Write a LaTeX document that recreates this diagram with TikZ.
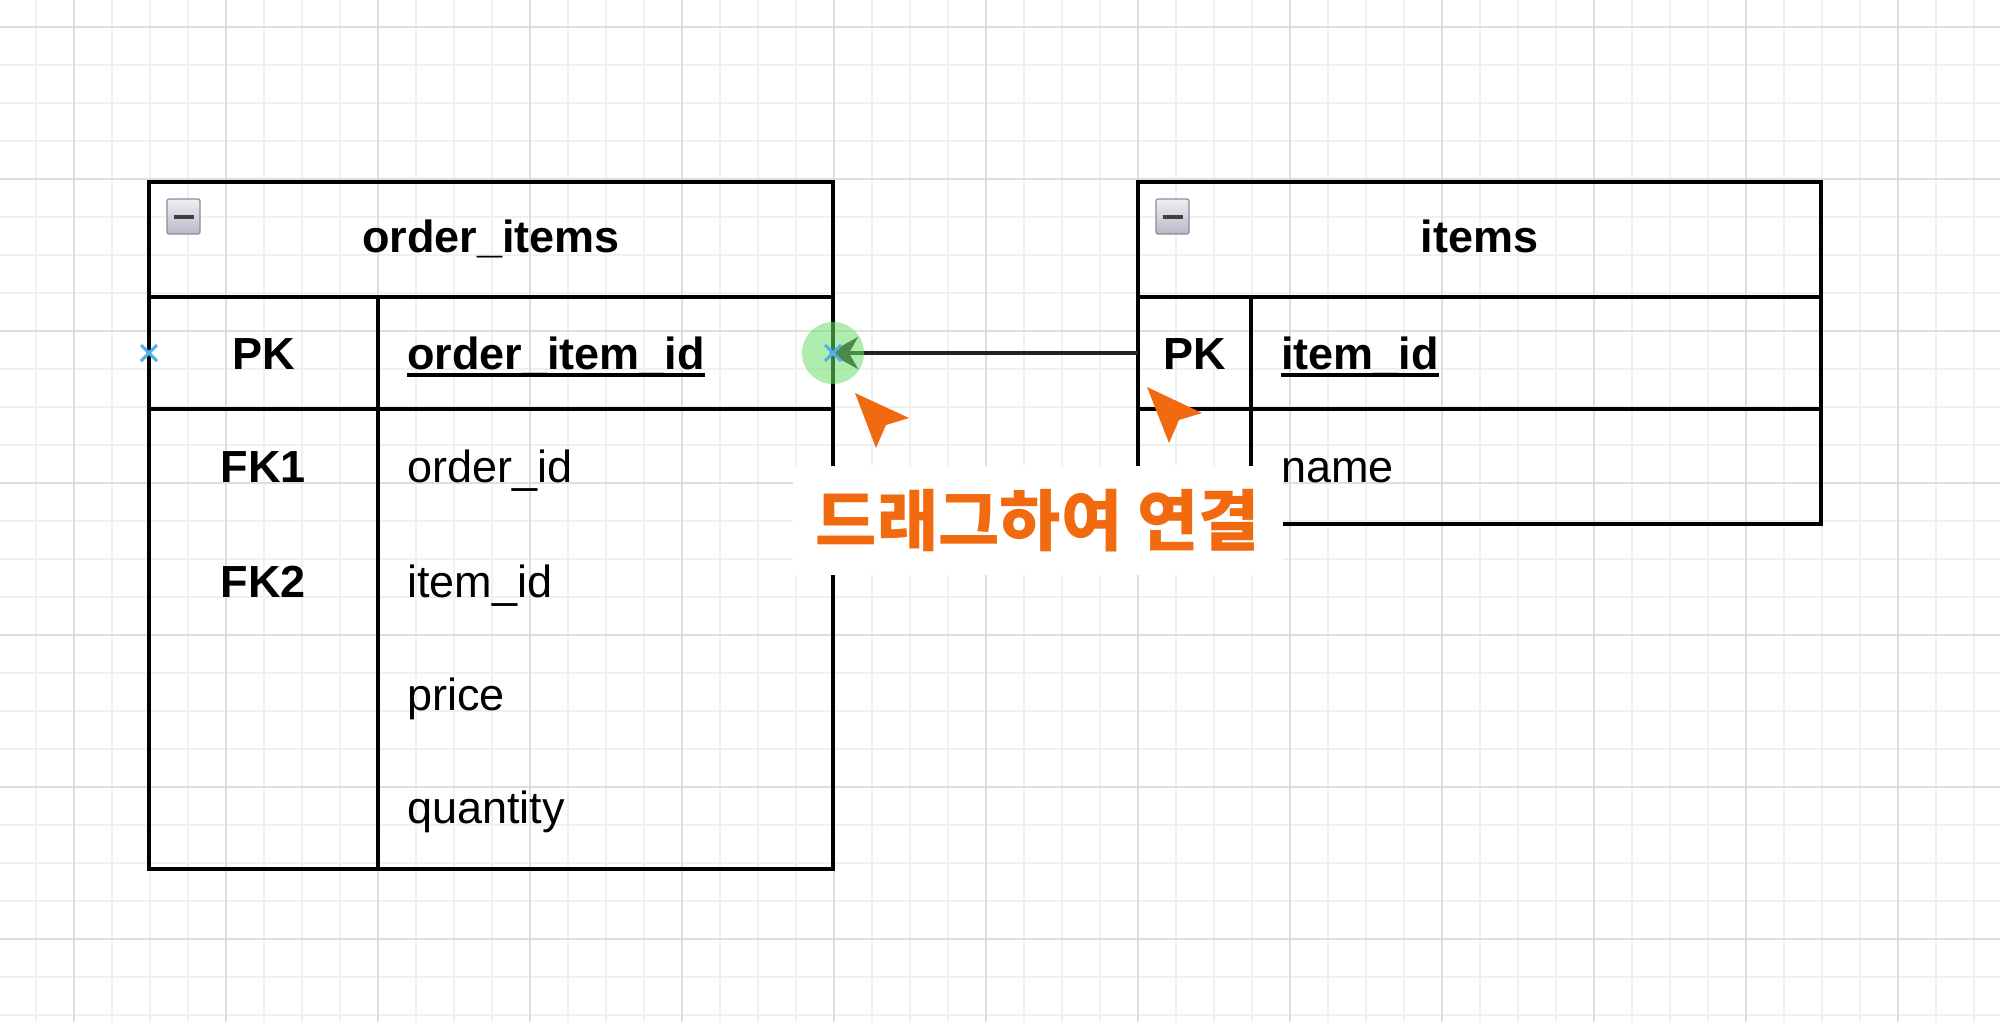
\documentclass[tikz,border=0pt]{standalone}
\usepackage{fontspec}
\setmainfont{Liberation Sans}
\newfontfamily\krfont{Noto Sans CJK KR}
\usetikzlibrary{arrows.meta}
\definecolor{gridminor}{HTML}{F0F0F0}
\definecolor{gridmajor}{HTML}{DEDEDE}
\definecolor{accent}{HTML}{F26A10}
\definecolor{hover}{HTML}{6EE06E}
\definecolor{markblue}{HTML}{4FB0EE}
\definecolor{icontop}{HTML}{EEEEF3}
\definecolor{iconbot}{HTML}{B8B9C5}
\definecolor{iconedge}{HTML}{8C8D9A}
\definecolor{linedark}{HTML}{222222}
\begin{document}
\begin{tikzpicture}[x=0.5pt,y=-0.5pt,
  box/.style={draw=black, line width=1.8pt, inner sep=0pt, outer sep=0pt, anchor=north west},
  tline/.style={draw=black, line width=1.8pt},
  hdrtxt/.style={anchor=base, inner sep=0pt, font=\bfseries\fontsize{22.5}{27}\selectfont},
  keytxt/.style={anchor=base, inner sep=0pt, font=\bfseries\fontsize{22.5}{27}\selectfont},
  pkfield/.style={anchor=base west, inner sep=0pt, font=\bfseries\fontsize{22.5}{27}\selectfont},
  field/.style={anchor=base west, inner sep=0pt, font=\fontsize{22.5}{27}\selectfont},
  uline/.style={draw=black, line width=1.7pt},
  icon/.style={draw=iconedge, line width=0.6pt, top color=icontop, bottom color=iconbot, rounded corners=1pt, minimum width=16.5pt, minimum height=17.5pt, inner sep=0pt},
  iconbar/.style={draw=black!75, line width=2pt},
  conn/.style={draw=linedark, line width=1.8pt, -{Stealth[length=14.5pt,width=16pt,inset=4.5pt]}, shorten >=-2pt},
  xmark/.style={draw=markblue, line width=1.5pt},
  cursor/.style={fill=accent}
]
\useasboundingbox (0,0) rectangle (2000,1022);
\fill[white] (0,0) rectangle (2000,1022);
% grid
\foreach \i in {0,...,52} {
  \pgfmathsetmacro\gx{-2+38*\i}
  \draw[gridminor, line width=0.9pt] (\gx,0) -- (\gx,1022);
}
\foreach \j in {0,...,26} {
  \pgfmathsetmacro\gy{27+38*\j}
  \draw[gridminor, line width=0.9pt] (0,\gy) -- (2000,\gy);
}
\foreach \i in {0,...,13} {
  \pgfmathsetmacro\gx{74+152*\i}
  \draw[gridmajor, line width=0.9pt] (\gx,0) -- (\gx,1022);
}
\foreach \j in {0,...,6} {
  \pgfmathsetmacro\gy{27+152*\j}
  \draw[gridmajor, line width=0.9pt] (0,\gy) -- (2000,\gy);
}

% table order_items
\node[box, minimum width=342pt, minimum height=343.5pt] (oi) at (149,182) {};
\node[box, minimum width=342pt, minimum height=57.5pt] (oihead) at (149,182) {};
\node[box, minimum width=342pt, minimum height=56pt] (oipk) at (149,297) {};
\draw[tline] (378,297) -- (378,869);
\node[icon] (oiicon) at (183.5,216.5) {};
\draw[iconbar] ([xshift=-5pt]oiicon.center) -- ([xshift=5pt]oiicon.center);
\node[hdrtxt] (oiname) at (491,252) {order\_items};
\node[keytxt] (oik1) at (263.5,369) {PK};
\node[keytxt] (oik2) at (263.5,482) {FK1};
\node[keytxt] (oik3) at (263.5,597) {FK2};
\node[pkfield] (oif1) at (407,369) {order\_item\_id};
\draw[uline] ([yshift=-3pt]oif1.base west) -- ([yshift=-3pt]oif1.base east);
\node[field] (oif2) at (407,482) {order\_id};
\node[field] (oif3) at (407,597) {item\_id};
\node[field] (oif4) at (407,710) {price};
\node[field] (oif5) at (407,823) {quantity};

% table items
\node[box, minimum width=341.5pt, minimum height=171pt] (it) at (1138,182) {};
\node[box, minimum width=341.5pt, minimum height=57.5pt] (ithead) at (1138,182) {};
\node[box, minimum width=341.5pt, minimum height=56pt] (itpk) at (1138,297) {};
\draw[tline] (1251,297) -- (1251,524);
\node[icon] (iticon) at (1172.5,216.5) {};
\draw[iconbar] ([xshift=-5pt]iticon.center) -- ([xshift=5pt]iticon.center);
\node[hdrtxt] (itname) at (1479.5,252) {items};
\node[keytxt] (itk1) at (1194.5,369) {PK};
\node[pkfield] (itf1) at (1281,369) {item\_id};
\draw[uline] ([yshift=-3pt]itf1.base west) -- ([yshift=-3pt]itf1.base east);
\node[field] (itf2) at (1281,482) {name};

% connector being dragged
\draw[conn] (itpk.west) -- (oipk.east);
\fill[hover, opacity=0.55] (oipk.east) circle[radius=15.5pt];
\draw[xmark] ([shift={(-8,-8)}]oipk.east) -- ([shift={(8,8)}]oipk.east)
             ([shift={(-8,8)}]oipk.east) -- ([shift={(8,-8)}]oipk.east);
\draw[xmark] ([shift={(-8,-8)}]oipk.west) -- ([shift={(8,8)}]oipk.west)
             ([shift={(-8,8)}]oipk.west) -- ([shift={(8,-8)}]oipk.west);

% label
\node[fill=white, inner sep=0pt, minimum width=245pt, minimum height=54.5pt,
      text=accent, font=\krfont\bfseries\fontsize{33.3}{38}\selectfont] (lbl) at (1038,520.5) {드래그하여 연결};

% cursors
\fill[cursor] (855,393) -- (909,418) -- (886,425) -- (876,448) -- cycle;
\fill[cursor] (1147,387) -- (1202,413) -- (1179,420) -- (1169,443) -- cycle;
\end{tikzpicture}
\end{document}
